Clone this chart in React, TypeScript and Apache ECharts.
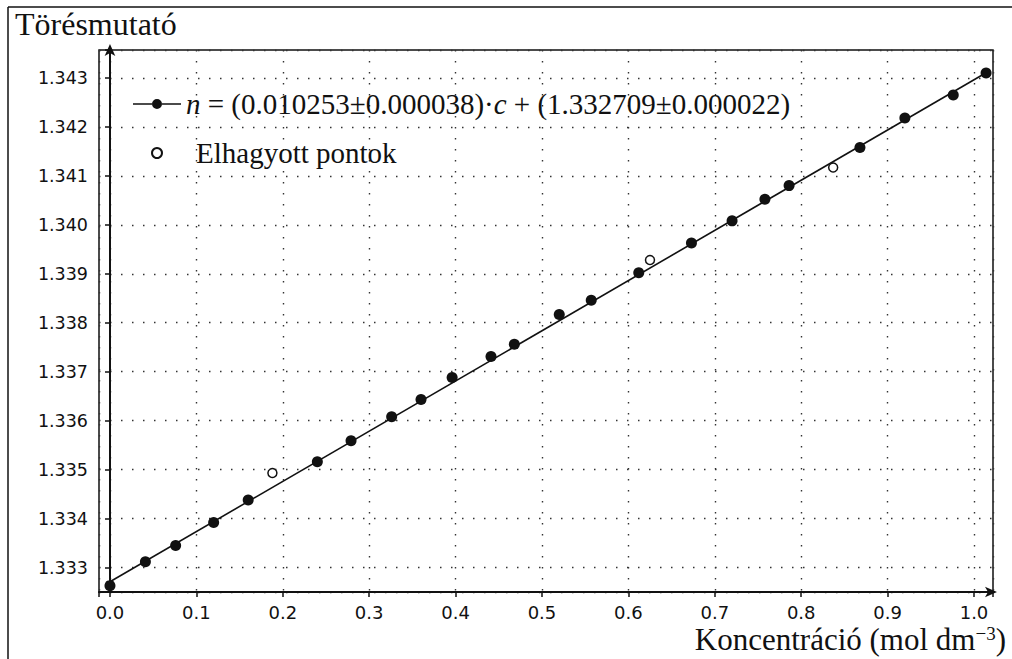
import React, { useEffect, useRef } from "react";
import * as echarts from "echarts";

// Concentration (mol dm^-3) and refractive index of the fitted points
const concFilled = [0, 0.041, 0.076, 0.12, 0.16, 0.24, 0.279, 0.326, 0.36, 0.396, 0.441, 0.468, 0.52, 0.557, 0.612, 0.673, 0.72, 0.758, 0.786, 0.868, 0.92, 0.976, 1.014];
const nFilled = [1.33263, 1.33312, 1.33345, 1.33392, 1.33438, 1.33516, 1.33559, 1.33608, 1.33643, 1.33688, 1.33731, 1.33756, 1.33817, 1.33846, 1.33902, 1.33963, 1.34008, 1.34052, 1.3408, 1.34158, 1.34218, 1.34265, 1.3431];
// Omitted points
const concOmitted = [0.188, 0.625, 0.837];
const nOmitted = [1.33493, 1.33928, 1.34117];
// Fitted line end points
const fitConc = [0, 1.014];
const fitN = [1.332709, 1.343105];

const fitLabel = "n = (0.010253±0.000038)·c + (1.332709±0.000022)";
const omittedLabel = "Elhagyott pontok";
const yTitle = "Törésmutató";
const xTitleMain = "Koncentráció (mol dm";
const xTitleSup = "−3";

const SERIF = "'Liberation Serif', 'Times New Roman', serif";
const SANS = "'DejaVu Sans', sans-serif";
const INK = "#111";

export default function App() {
  const ref = useRef<HTMLDivElement>(null);
  useEffect(() => {
    if (!ref.current) return;
    const chart = echarts.init(ref.current, null, { renderer: "svg" });
    const zip = (a: number[], b: number[]) => a.map((v, i) => [v, b[i]]);
    const dotted = { type: [1.5, 9.5] as any, color: "#333", width: 1.4 };
    const legendPath = "path://M0,4.3 H19 V5.7 H0 Z M29,4.3 H48 V5.7 H29 Z M19,5 A5,5 0 1,1 29,5 A5,5 0 1,1 19,5 Z";
    chart.setOption({
      animation: false,
      backgroundColor: "#fff",
      title: {
        text: yTitle,
        left: 10,
        top: 3,
        textStyle: { fontFamily: SERIF, fontSize: 32, fontWeight: "normal", color: INK },
      },
      grid: {
        left: 99,
        top: 50,
        right: 19,
        bottom: 67,
        containLabel: false,
        outerBoundsMode: "none",
        show: true,
        borderColor: INK,
        borderWidth: 1.5,
        backgroundColor: "transparent",
      },
      legend: {
        orient: "vertical",
        left: 128,
        top: 83,
        itemWidth: 48,
        itemHeight: 10,
        itemGap: 17,
        selectedMode: false,
        data: [
          { name: fitLabel, icon: legendPath },
          { name: omittedLabel, icon: "circle" },
        ],
        formatter: (name: string) =>
          name === fitLabel
            ? "{i|n} = (0.010253±0.000038)·{i|c} + (1.332709±0.000022)"
            : "{e|" + name + "}",
        textStyle: {
          fontFamily: SERIF,
          fontSize: 29,
          lineHeight: 32,
          color: INK,
          rich: {
            i: { fontFamily: SERIF, fontSize: 29, lineHeight: 32, fontStyle: "italic", color: INK },
            e: { fontFamily: SERIF, fontSize: 29, lineHeight: 32, color: INK, padding: [0, 0, 0, 10] },
          },
        },
      },
      xAxis: {
        type: "value",
        min: -0.0127,
        max: 1.022,
        splitNumber: 10,
        axisLine: {
          lineStyle: { color: INK, width: 2 },
          symbol: ["none", "arrow"],
          symbolSize: [8, 12],
          symbolOffset: [0, 4],
        },
        axisTick: { length: 5, lineStyle: { color: INK, width: 1.5 } },
        axisLabel: {
          margin: 11,
          fontFamily: SANS,
          fontSize: 18,
          color: INK,
          formatter: (v: number) => (Math.abs(v * 10 - Math.round(v * 10)) < 1e-6 ? v.toFixed(1) : ""),
        },
        splitLine: { show: true, lineStyle: dotted },
      },
      yAxis: {
        type: "value",
        min: 1.3325,
        max: 1.34357,
        splitNumber: 11,
        axisLine: {
          show: true,
          lineStyle: { color: INK, width: 2 },
          symbol: ["none", "arrow"],
          symbolSize: [8, 12],
          symbolOffset: [0, 6],
        },
        axisTick: { show: true, length: 5, lineStyle: { color: INK, width: 1.5 } },
        axisLabel: {
          margin: 11,
          fontFamily: SANS,
          fontSize: 17.5,
          color: INK,
          formatter: (v: number) => (Math.abs(v * 1000 - Math.round(v * 1000)) < 1e-6 ? v.toFixed(3) : ""),
        },
        splitLine: { show: true, lineStyle: dotted },
      },
      graphic: [
        { type: "line", shape: { x1: 8, y1: 7, x2: 1012, y2: 7 }, style: { stroke: INK, lineWidth: 1.5 } },
        { type: "line", shape: { x1: 8, y1: 7, x2: 8, y2: 659 }, style: { stroke: INK, lineWidth: 1.5 } },
        {
          type: "text",
          right: 6,
          top: 624,
          style: {
            text: "{a|" + xTitleMain + "}{s|" + xTitleSup + "}{a|)}",
            fill: INK,
            rich: {
              a: { fontFamily: SERIF, fontSize: 31, lineHeight: 31, fill: INK },
              s: { fontFamily: SERIF, fontSize: 19, lineHeight: 19, verticalAlign: "top", fill: INK },
            },
          },
        },
      ],
      series: [
        {
          name: "fit",
          type: "line",
          data: zip(fitConc, fitN),
          showSymbol: false,
          lineStyle: { color: INK, width: 1.6 },
          silent: true,
          z: 2,
        },
        {
          name: fitLabel,
          type: "scatter",
          data: zip(concFilled, nFilled),
          symbol: "circle",
          symbolSize: 11,
          itemStyle: { color: INK, opacity: 1 },
          z: 3,
        },
        {
          name: omittedLabel,
          type: "scatter",
          data: zip(concOmitted, nOmitted),
          symbol: "circle",
          symbolSize: 9,
          itemStyle: { color: "#fff", borderColor: INK, borderWidth: 1.5, opacity: 1 },
          z: 3,
        },
      ],
    });
    return () => chart.dispose();
  }, []);
  return <div ref={ref} style={{ position: "fixed", left: 0, top: 0, width: 1012, height: 659 }} />;
}
